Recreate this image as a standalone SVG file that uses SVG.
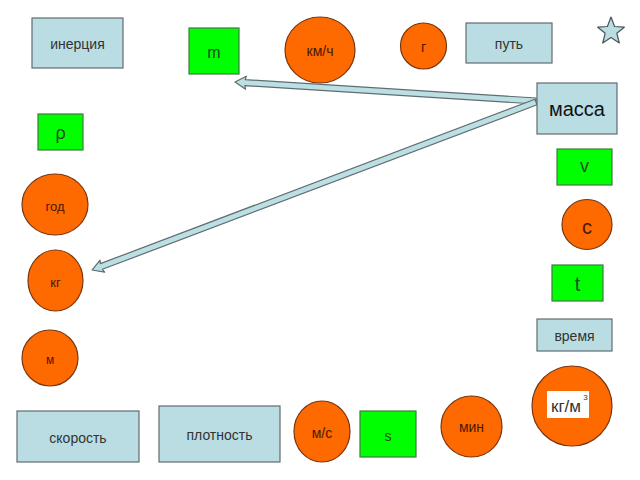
<svg xmlns="http://www.w3.org/2000/svg" width="640" height="480" viewBox="0 0 640 480">
<style>
.box{fill:#b9dde2;stroke:#5f6d70;stroke-width:1.2}
.grn{fill:#00ff00;stroke:#3f7a3f;stroke-width:1.2}
.org{fill:#ff6a00;stroke:#7a3510;stroke-width:1.2}
.arr{fill:#bcdfe3;stroke:#5f6d70;stroke-width:1.2;stroke-linejoin:round}
text{font-family:"Liberation Sans",Arial,sans-serif;text-anchor:middle;dominant-baseline:central}
.tb{fill:#333}
.tg{fill:#1d4d1d}
.to{fill:#4a1800}
</style>
<rect width="640" height="480" fill="#fff"/>
<g id="connectors">
<path class="arr" transform="translate(536,101) rotate(183.61)" d="M0,-3 L291.6,-3 L290.6,-6.5 L301.6,0 L290.6,6.5 L291.6,3 L0,3 Z"/>
<path class="arr" transform="translate(536,102) rotate(159.27)" d="M0,-3 L464.7,-3 L463.7,-6.5 L474.7,0 L463.7,6.5 L464.7,3 L0,3 Z"/>
</g>
<g id="inertia"><rect class="box" x="32" y="18" width="91" height="50"/><text class="tb" x="77.5" y="44" font-size="14">инерция</text></g>
<g id="m"><rect class="grn" x="189" y="28" width="50" height="46"/><text class="tg" x="214" y="52" font-size="16">m</text></g>
<g id="kmh"><ellipse class="org" cx="320" cy="50" rx="35" ry="33"/><text class="to" x="320" y="51" font-size="14">км/ч</text></g>
<g id="g"><circle class="org" cx="423.5" cy="46" r="23"/><text class="to" x="423.5" y="47" font-size="14">г</text></g>
<g id="put"><rect class="box" x="466" y="23" width="86" height="40"/><text class="tb" x="509" y="44" font-size="14">путь</text></g>
<g id="star"><polygon points="611,17 614.6,26.5 624.3,27.2 616.8,33.2 619.3,43 611,37.5 602.7,43 605.2,33.2 597.7,27.2 607.4,26.5" fill="#b9dde2" stroke="#4a5457" stroke-width="1.2" stroke-linejoin="round"/></g>
<g id="massa"><rect class="box" x="537" y="83" width="80" height="51"/><text fill="#111" x="577" y="109" font-size="20">масса</text></g>
<g id="rho"><rect class="grn" x="38" y="114" width="45" height="36"/><text class="tg" x="60.5" y="133" font-size="18">ρ</text></g>
<g id="v"><rect class="grn" x="557" y="149" width="55" height="36"/><text class="tg" x="584.5" y="166" font-size="18">v</text></g>
<g id="god"><ellipse class="org" cx="55" cy="204.5" rx="33" ry="30.5"/><text class="to" x="55" y="206" font-size="13">год</text></g>
<g id="c"><circle class="org" cx="587" cy="224.5" r="25"/><text class="to" x="587" y="227" font-size="20">с</text></g>
<g id="kg"><ellipse class="org" cx="55.5" cy="280.5" rx="27.5" ry="30.5"/><text class="to" x="55.5" y="282" font-size="13">кг</text></g>
<g id="t"><rect class="grn" x="552" y="265" width="51" height="36"/><text class="tg" x="577.5" y="284" font-size="20">t</text></g>
<g id="vremya"><rect class="box" x="537" y="319" width="75" height="32"/><text class="tb" x="574.5" y="336" font-size="14">время</text></g>
<g id="mcirc"><circle class="org" cx="50" cy="358" r="28"/><text class="to" x="50" y="360" font-size="12">м</text></g>
<g id="kgm3"><circle class="org" cx="572" cy="406" r="40"/><rect x="547" y="391" width="42" height="27" fill="#fff"/><text fill="#333" x="566" y="406" font-size="17">кг/м</text><text fill="#333" x="585.5" y="397" font-size="8">3</text></g>
<g id="skorost"><rect class="box" x="17" y="411" width="122" height="51"/><text class="tb" x="78" y="438" font-size="14">скорость</text></g>
<g id="plotnost"><rect class="box" x="159" y="406" width="121" height="56"/><text class="tb" x="219.5" y="435" font-size="14">плотность</text></g>
<g id="ms"><ellipse class="org" cx="322" cy="431.5" rx="28" ry="30.5"/><text class="to" x="322" y="433" font-size="14">м/с</text></g>
<g id="s"><rect class="grn" x="360" y="411" width="56" height="46"/><text class="tg" x="388" y="436" font-size="14">s</text></g>
<g id="min"><circle class="org" cx="471.5" cy="426.5" r="30.5"/><text class="to" x="471.5" y="427" font-size="14">мин</text></g>
</svg>
